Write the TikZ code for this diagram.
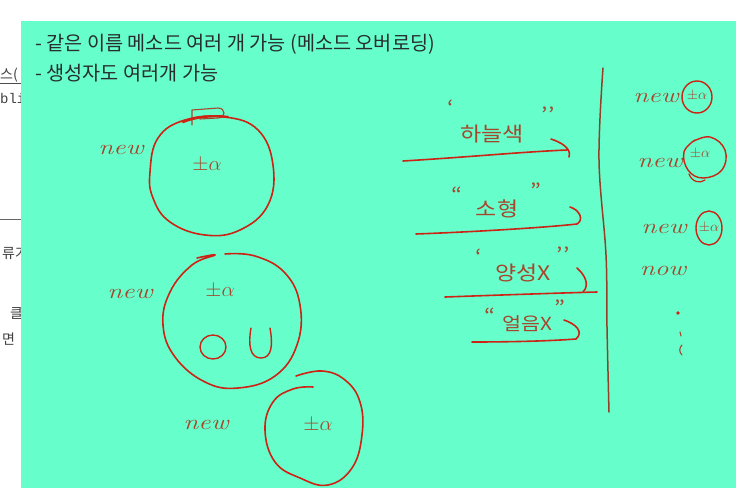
\documentclass[tikz,border=0pt]{standalone}
\usepackage{fontspec}
\newfontfamily\kr{Noto Sans CJK KR}
\newfontfamily\monof{Liberation Mono}
\definecolor{bggreen}{RGB}{102,255,204}
\definecolor{penred}{RGB}{205,35,20}
\definecolor{inkbrown}{RGB}{165,70,45}
\definecolor{txtdark}{RGB}{40,45,45}
\tikzset{
  pen/.style={draw=penred, line width=1.6pt, line cap=round, line join=round},
  thinpen/.style={draw=inkbrown, line width=1.1pt, line cap=round, line join=round},
  hand/.style={text=inkbrown, font=\fontsize{21}{21}\selectfont\itshape, inner sep=0pt, xscale=1.3},
  handkr/.style={text=inkbrown, font=\kr\fontsize{20}{20}\selectfont, inner sep=0pt, xscale=1.15},
  obj/.style={text=inkbrown, font=\fontsize{22}{22}\selectfont, inner sep=0pt},
  objs/.style={text=inkbrown, font=\fontsize{15}{15}\selectfont, inner sep=0pt},
  maintxt/.style={text=txtdark, font=\kr\fontsize{19.7}{19.7}\selectfont, anchor=west, inner sep=0pt},
  frag/.style={text=black!75, font=\kr\fontsize{14}{14}\selectfont, anchor=west, inner sep=0pt}
}
\begin{document}
\begin{tikzpicture}[x=1pt,y=-1pt]
\useasboundingbox (0,0) rectangle (750,490);
\fill[white] (0,0) rectangle (750,490);
% left fragments of underlying page
\node[frag] (f1) at (0,75) {스(};
\draw[black!70, line width=0.6pt] (0,83) -- (22,83);
\node[frag, font=\monof\fontsize{14}{14}\selectfont] (f2) at (0,98) {bli};
\draw[black!60, line width=0.6pt] (0,219) -- (22,219);
\node[frag] (f3) at (2,253) {류가};
\node[frag] (f4) at (10,313) {클래};
\node[frag] (f5) at (2,339) {면};
% green sheet
\fill[bggreen] (21,21) rectangle (736,488);
% heading text
\node[maintxt] (t1) at (35,44) {- 같은 이름 메소드 여러 개 가능 (메소드 오버로딩)};
\node[maintxt] (t2) at (35,73) {- 생성자도 여러개 가능};

% ---- circle 1
\draw[pen] plot[smooth cycle, tension=0.7] coordinates {(150,172) (158,138) (185,120) (225,117) (258,130) (273,165) (268,205) (240,230) (205,235) (170,222) (153,198)};
\draw[thinpen] (192,125) -- (192,110) -- (218,108) .. controls (226,108) and (226,118) .. (218,118) -- (200,119);
\draw[pen, line width=2.4pt] (183,122) .. controls (195,117) and (212,115) .. (228,117);
\node[hand] (n1) at (121,150) {new};
\node[obj] (o1) at (207,165) {$\pm\alpha$};

% ---- circle 2
\draw[pen] plot[smooth, tension=0.7] coordinates {(197,258) (215,255) (192,265) (170,292) (163,325) (175,357) (205,382) (238,388) (275,376) (297,345) (300,305) (285,273) (255,256) (225,254)};
\node[hand] (n2) at (130,294) {new};
\node[obj] (o2) at (220,291) {$\pm\alpha$};
\draw[pen, line width=1.4pt] (213,347) ellipse (13 and 12);
\draw[pen, line width=1.4pt] (251,328) .. controls (248,345) and (250,358) .. (261,358) .. controls (272,358) and (273,345) .. (270,328);

% ---- circle 3
\draw[pen] plot[smooth, tension=0.7] coordinates {(296,376) (322,371) (345,380) (360,402) (362,435) (352,468) (328,485) (300,478) (275,462) (265,430) (273,402) (293,389) (313,387)};
\node[hand] (n3) at (206,425) {new};
\node[obj] (o3) at (318,425) {$\pm\alpha$};

% ---- arrows with arguments
\coordinate (a1s) at (403,161); \coordinate (a1e) at (567,150);
\draw[pen] (a1s) .. controls (470,157) and (520,152) .. (a1e);
\draw[pen] (551,139) .. controls (560,142) and (572,148) .. (569,157);
\node[handkr] (l1) at (492,134) {하늘색};
\node[handkr] (q1a) at (451,108) {‘};
\node[handkr] (q1b) at (548,115) {’’};

\coordinate (a2s) at (416,234); \coordinate (a2e) at (577,224);
\draw[pen] (a2s) .. controls (470,232) and (540,228) .. (a2e);
\draw[pen] (570,207) .. controls (580,210) and (584,220) .. (a2e);
\node[handkr] (l2) at (497,209) {소형};
\node[handkr] (q2a) at (457,195) {“};
\node[handkr] (q2b) at (536,191) {”};

\coordinate (a3s) at (445,297); \coordinate (a3e) at (597,292);
\draw[pen] (a3s) .. controls (500,295) and (560,293) .. (a3e);
\draw[pen] (577,268) .. controls (585,275) and (590,285) .. (583,292);
\node[handkr] (l3) at (523,273) {양성X};
\node[handkr] (q3a) at (479,257) {‘};
\node[handkr] (q3b) at (563,255) {’’};

\coordinate (a4s) at (472,342); \coordinate (a4e) at (576,339);
\draw[pen] (a4s) .. controls (510,342) and (550,341) .. (a4e);
\draw[pen] (564,320) .. controls (576,324) and (584,332) .. (a4e);
\node[handkr, font=\kr\fontsize{18}{18}\selectfont, xscale=1] (l4) at (527,324) {얼음X};
\node[handkr] (q4a) at (490,316) {“};
\node[handkr] (q4b) at (560,308) {”};

% ---- vertical divider
\draw[pen, draw=inkbrown!90!black, line width=1.5pt] plot[smooth, tension=0.6] coordinates {(603,68) (599,160) (606,255) (607,327) (609,412)};

% ---- right column
\node[hand] (r1) at (656,98) {new};
\draw[pen, line width=1.4pt] (697,97) ellipse (15 and 16);
\node[objs] (ro1) at (697,96) {$\pm\alpha$};

\node[hand] (r2) at (660,163) {new};
\draw[pen, line width=1.4pt] plot[smooth, tension=0.7] coordinates {(692,142) (710,137) (725,150) (722,170) (703,178) (688,170) (684,152) (695,140)};
\draw[pen, line width=1.2pt] (689,174) .. controls (692,182) and (700,184) .. (705,180);
\node[objs] (ro2) at (700,154) {$\pm\alpha$};

\node[hand] (r3) at (664,229) {new};
\draw[pen, line width=1.4pt] (709,228) ellipse (13 and 17);
\node[objs] (ro3) at (709,228) {$\pm\alpha$};

\node[hand] (r4) at (663,271) {now};
\fill[penred] (678,313) circle (1.8);
\draw[thinpen] (680,332) -- (681,336);
\draw[thinpen] (682,345) .. controls (679,348) and (679,352) .. (682,355);
\end{tikzpicture}
\end{document}
